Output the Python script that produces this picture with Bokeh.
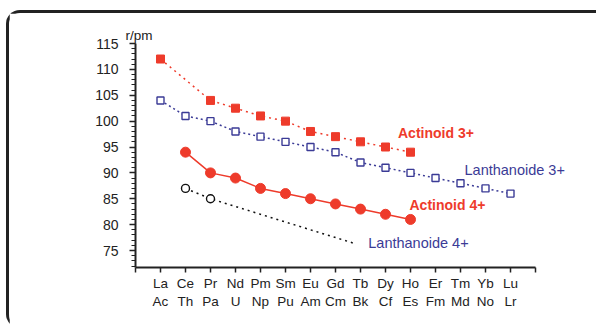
from bokeh.plotting import figure
from bokeh.models import Range1d, FixedTicker, LinearAxis, Label
from bokeh.layouts import column
from bokeh.embed import file_html
from bokeh.resources import INLINE

# ---- data ----
lanthanides = ["La", "Ce", "Pr", "Nd", "Pm", "Sm", "Eu", "Gd", "Tb", "Dy", "Ho", "Er", "Tm", "Yb", "Lu"]
actinides = ["Ac", "Th", "Pa", "U", "Np", "Pu", "Am", "Cm", "Bk", "Cf", "Es", "Fm", "Md", "No", "Lr"]
positions = list(range(1, 16))

act3_x = [1, 3, 4, 5, 6, 7, 8, 9, 10, 11]
act3_y = [112, 104, 102.5, 101, 100, 98, 97, 96, 95, 94]

lan3_x = list(range(1, 16))
lan3_y = [104, 101, 100, 98, 97, 96, 95, 94, 92, 91, 90, 89, 88, 87, 86]

act4_x = [2, 3, 4, 5, 6, 7, 8, 9, 10, 11]
act4_y = [94, 90, 89, 87, 86, 85, 84, 83, 82, 81]

lan4_x = [2, 3]
lan4_y = [87, 85]
lan4_trend_x = [2, 3, 8.8]
lan4_trend_y = [87, 85, 76.3]

y_major = [75, 80, 85, 90, 95, 100, 105, 110, 115]
y_minor = list(range(72, 116))
x_bounds = (0, 16)
y_top = 115

RED = "#EE3B2B"
BLUE = "#3B3B96"
DARK = "#222222"
FONT = "Liberation Sans"

W, H = 587, 315
FL, FT, FB = 126, 30, 61      # frame left / top / bottom borders in px
XPX, YPX = 25.0, 5.175        # px per data unit
frame_w = W - FL
frame_h = H - FT - FB

p = figure(width=W, height=H, output_backend="svg", toolbar_location=None,
           x_range=Range1d(x_bounds[0], x_bounds[0] + frame_w / XPX),
           y_range=Range1d(y_top - frame_h / YPX, y_top),
           min_border_left=FL, min_border_right=0, min_border_top=FT, min_border_bottom=FB,
           x_axis_location=None, y_axis_location=None)
p.outline_line_color = None
p.grid.visible = False
p.background_fill_color = "white"
p.border_fill_color = "white"

# "r/pm" unit label as a title over the y axis
p.title.text = "r/pm"
p.title.align = "left"
p.title.offset = -10
p.title.standoff = 2
p.title.text_font = FONT
p.title.text_font_size = "13.5px"
p.title.text_font_style = "normal"
p.title.text_color = "#222222"

# y axis
yax = LinearAxis(ticker=FixedTicker(ticks=y_major, minor_ticks=y_minor))
yax.axis_line_color = DARK
yax.axis_line_width = 2
yax.major_tick_line_color = DARK
yax.major_tick_line_width = 1.5
yax.major_tick_out = 6
yax.major_tick_in = 0
yax.minor_tick_line_color = DARK
yax.minor_tick_line_width = 1.2
yax.minor_tick_out = 4
yax.minor_tick_in = 0
yax.major_label_text_font = FONT
yax.major_label_text_font_size = "14px"
yax.major_label_text_color = "#222222"
yax.major_label_standoff = 11
p.add_layout(yax, "left")

# x axis (two rows of labels)
x_ticks = list(range(0, 17))
row1 = {i: "" for i in x_ticks}
row2 = {i: "" for i in x_ticks}
for pos, a, b in zip(positions, lanthanides, actinides):
    row1[pos] = a
    row2[pos] = b

xax = LinearAxis(ticker=FixedTicker(ticks=x_ticks, minor_ticks=[]), bounds=x_bounds)
xax.major_label_overrides = row1
xax.axis_line_color = DARK
xax.axis_line_width = 2
xax.major_tick_line_color = DARK
xax.major_tick_line_width = 1.5
xax.major_tick_out = 5
xax.major_tick_in = 0
xax.minor_tick_line_color = None
xax.major_label_text_font = FONT
xax.major_label_text_font_size = "13.5px"
xax.major_label_text_color = "#222222"
xax.major_label_standoff = 3
p.add_layout(xax, "below")

xax2 = LinearAxis(ticker=FixedTicker(ticks=x_ticks, minor_ticks=[]), bounds=x_bounds)
xax2.major_label_overrides = row2
xax2.axis_line_color = None
xax2.major_tick_line_color = None
xax2.minor_tick_line_color = None
xax2.major_tick_out = 0
xax2.major_tick_in = 0
xax2.major_label_text_font = FONT
xax2.major_label_text_font_size = "13.5px"
xax2.major_label_text_color = "#222222"
xax2.major_label_standoff = 0
p.add_layout(xax2, "below")

# series
p.line(act3_x, act3_y, line_color=RED, line_width=1.5, line_dash="2 4")
p.scatter(act3_x, act3_y, marker="square", size=8, fill_color=RED, line_color=RED)

p.line(lan3_x, lan3_y, line_color=BLUE, line_width=1.5, line_dash="2 3")
p.scatter(lan3_x, lan3_y, marker="square", size=7, fill_color="white", line_color=BLUE, line_width=1.4)

p.line(act4_x, act4_y, line_color=RED, line_width=1.5)
p.scatter(act4_x, act4_y, marker="circle", size=10, fill_color=RED, line_color=RED)

p.line(lan4_trend_x, lan4_trend_y, line_color="#111111", line_width=1.5, line_dash="2 4")
p.scatter(lan4_x, lan4_y, marker="circle", size=8, fill_color="white", line_color="#111111", line_width=1.4)

# series labels
p.add_layout(Label(x=10.5, y=97.8, text="Actinoid 3+", text_color=RED, text_font=FONT,
                   text_font_size="14px", text_font_style="bold", text_baseline="middle"))
p.add_layout(Label(x=13.16, y=90.6, text="Lanthanoide 3+", text_color=BLUE, text_font=FONT,
                   text_font_size="14.5px", text_baseline="middle"))
p.add_layout(Label(x=10.96, y=83.7, text="Actinoid 4+", text_color=RED, text_font=FONT,
                   text_font_size="14px", text_font_style="bold", text_baseline="middle"))
p.add_layout(Label(x=9.31, y=76.5, text="Lanthanoide 4+", text_color=BLUE, text_font=FONT,
                   text_font_size="14.5px", text_baseline="middle"))

layout = column(p, styles={"border-left": "3px solid #222222", "border-top": "3px solid #222222",
                           "border-top-left-radius": "14px", "border-bottom-left-radius": "14px",
                           "margin-left": "6px", "margin-top": "10px"})

open("out.html", "w").write(file_html(layout, INLINE))
